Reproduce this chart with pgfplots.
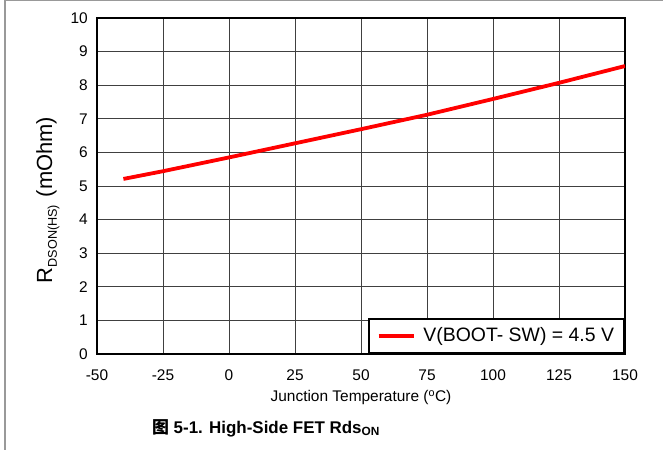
\documentclass[border=0pt]{standalone}
\usepackage{pgfplots}
\pgfplotsset{compat=1.18}
\usepackage{fontspec}
\setmainfont{Liberation Sans}
\newfontfamily\cjk{Noto Sans CJK SC}
\begin{document}
\fontsize{15}{18}\selectfont
\begin{tikzpicture}[x=1bp,y=1bp]
\path[use as bounding box] (0,0) rectangle (663,450);
\draw[gray!80, line width=1.2bp] (5,0) -- (5,449.4) -- (663,449.4);
\begin{axis}[
  at={(97bp,96bp)}, anchor=south west,
  scale only axis,
  width=528bp, height=336bp,
  xmin=-50, xmax=150, ymin=0, ymax=10,
  xtick={-50,-25,...,150}, ytick={0,1,...,10},
  grid=major,
  major grid style={black!75, line width=0.8bp},
  axis line style={line width=2.4bp},
  tick style={draw=none},
  /pgf/number format/assume math mode=true,
  ticklabel style={font=\fontsize{15.5}{18}\selectfont},
  xticklabel style={yshift=-11bp},
  yticklabel style={xshift=-4bp},
  xlabel={Junction Temperature (\textsuperscript{o}C)},
  ylabel={R\raisebox{-0.22em}{\fontsize{12.7}{14}\selectfont DSON(HS)}\hspace{0.35em}(mOhm)},
  xlabel style={font=\fontsize{15.5}{18}\selectfont, yshift=1bp},
  ylabel style={font=\fontsize{22}{26}\selectfont, yshift=1bp, xshift=-14bp},
  legend style={at={(1,0)}, anchor=south east, draw=black, line width=2bp,
    font=\fontsize{19.5}{23}\selectfont, inner xsep=8bp, inner ysep=7bp,
    legend cell align=left},
  legend image code/.code={\draw[#1, line width=3.5bp] (0bp,0bp) -- (35bp,0bp);},
]
\addplot[red, line width=3.8bp] coordinates {
  (-40,5.21) (-25,5.44) (0,5.85) (25,6.27) (50,6.69) (75,7.12) (100,7.59) (125,8.07) (150,8.57)
};
\addlegendentry{\hspace{6bp}V(BOOT- SW) = 4.5 V}
\end{axis}
\node[font=\fontsize{17}{20}\selectfont\bfseries] at (266,22) {{\cjk 图} 5-1. High-Side FET Rds\textsubscript{ON}};
\end{tikzpicture}
\end{document}
